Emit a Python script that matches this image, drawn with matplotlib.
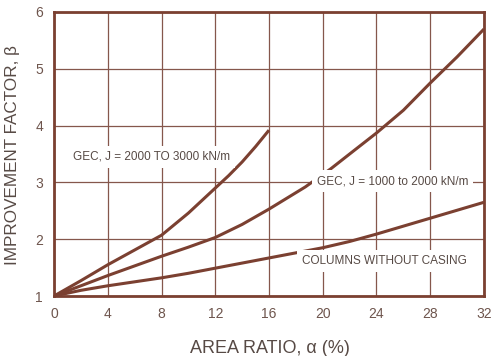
import matplotlib.pyplot as plt

plt.rcParams['font.family'] = ['Liberation Sans', 'DejaVu Sans']

# Improvement factor vs area ratio
x_gec_high = [0, 2, 4, 6, 8, 10, 12, 13, 14, 15, 16]
y_gec_high = [1, 1.27, 1.55, 1.81, 2.07, 2.46, 2.9, 3.12, 3.36, 3.63, 3.92]

x_gec_low = [0, 2, 4, 6, 8, 10, 12, 14, 16, 18.7, 20.6, 22, 24, 26, 28, 30, 32]
y_gec_low = [1, 1.18, 1.36, 1.53, 1.70, 1.86, 2.03, 2.26, 2.53, 2.92, 3.24, 3.50,
             3.87, 4.27, 4.75, 5.21, 5.70]

x_no_casing = [0, 2, 4, 6, 8, 10, 12, 14, 16, 18, 20, 22, 24, 26, 28, 30, 32]
y_no_casing = [1, 1.10, 1.18, 1.25, 1.32, 1.40, 1.49, 1.58, 1.67, 1.76, 1.85, 1.96,
               2.09, 2.23, 2.37, 2.51, 2.65]

x_ticks = [0, 4, 8, 12, 16, 20, 24, 28, 32]
y_ticks = [1, 2, 3, 4, 5, 6]

line_col = '#7b4031'
grid_col = '#85574c'
text_col = '#574a45'
tick_col = '#6e554d'

fig = plt.figure(figsize=(4.92, 3.56), dpi=100)
ax = fig.add_axes([0.1098, 0.1685, 0.8739, 0.7978])

for xv in x_ticks:
    ax.axvline(xv, color=grid_col, lw=0.9, zorder=1)
for yv in y_ticks:
    ax.axhline(yv, color=grid_col, lw=0.9, zorder=1)

for xs, ys in [(x_gec_high, y_gec_high), (x_gec_low, y_gec_low), (x_no_casing, y_no_casing)]:
    ax.plot(xs, ys, color=line_col, lw=2.2, solid_capstyle='butt', zorder=3)

box = dict(facecolor='white', edgecolor='none', pad=3.5)
ax.text(7.23, 3.45, 'GEC, J = 2000 TO 3000 kN/m', ha='center', va='center',
        fontsize=8.5, color=text_col, bbox=box, zorder=4)
ax.text(25.2, 3.02, 'GEC, J = 1000 to 2000 kN/m', ha='center', va='center',
        fontsize=8.5, color=text_col, bbox=box, zorder=4)
ax.text(24.6, 1.62, 'COLUMNS WITHOUT CASING', ha='center', va='center',
        fontsize=8.5, color=text_col, bbox=box, zorder=4)

ax.set_xlim(0, 32)
ax.set_ylim(1, 6)
ax.set_xticks(x_ticks)
ax.set_yticks(y_ticks)
ax.tick_params(length=0, pad=8, labelsize=10, labelcolor=tick_col)

for s in ax.spines.values():
    s.set_color(line_col)
    s.set_linewidth(2)
    s.set_zorder(5)

ax.set_xlabel('AREA RATIO, α (%)', fontsize=13, color=text_col)
ax.set_ylabel('IMPROVEMENT FACTOR, β', fontsize=12.3, color=text_col)
ax.xaxis.set_label_coords(0.502, -0.155)
ax.yaxis.set_label_coords(-0.079, 0.496)

fig.savefig('out.png', dpi=100, facecolor='white')
